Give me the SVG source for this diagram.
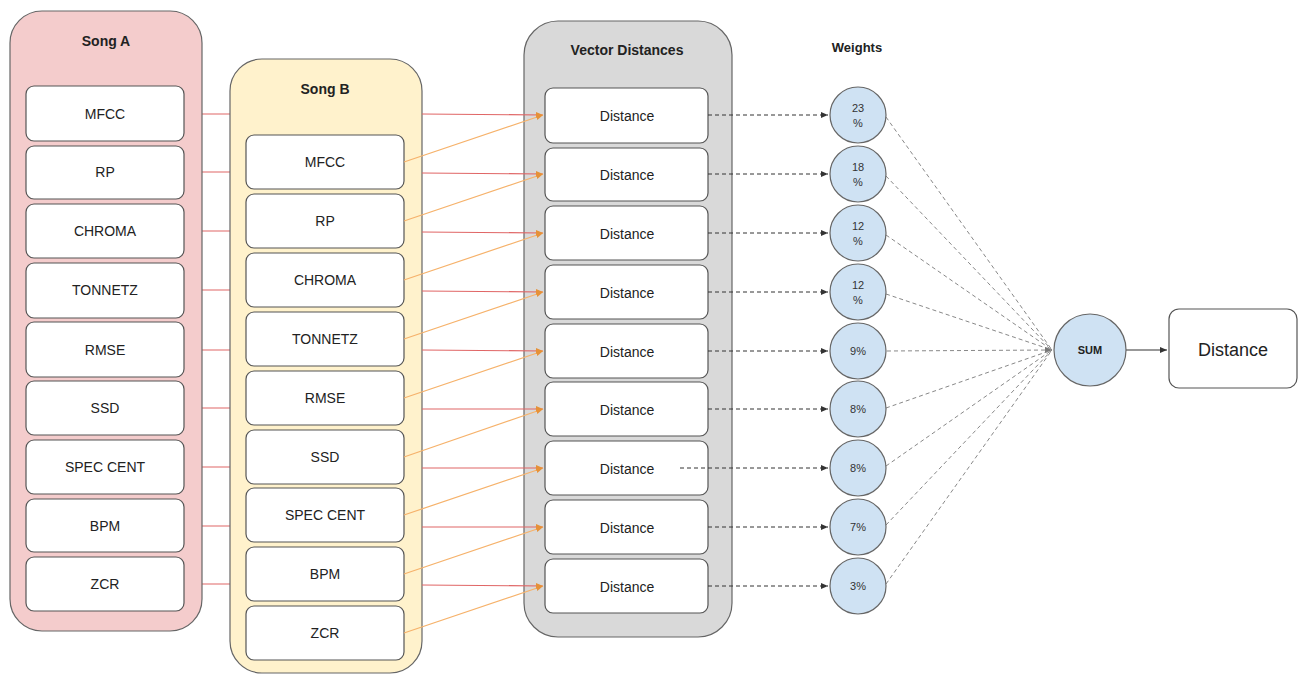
<svg xmlns="http://www.w3.org/2000/svg" width="1300" height="675" viewBox="0 0 1300 675">
  <style>
    .lbl { font-family: "Liberation Sans", Arial, sans-serif; font-size: 14px; fill: #222; text-anchor: middle; dominant-baseline: central; }
    .ttl { font-family: "Liberation Sans", Arial, sans-serif; font-size: 14px; font-weight: bold; fill: #222; text-anchor: middle; dominant-baseline: central; }
    .pct { font-family: "Liberation Sans", Arial, sans-serif; font-size: 11px; fill: #333; text-anchor: middle; dominant-baseline: central; }
    .item { fill: #ffffff; stroke: #555; stroke-width: 1.2; }
    .wt { fill: #cfe2f3; stroke: #666; stroke-width: 1.2; }
    .red { stroke: #e06666; stroke-width: 1.2; fill: none; }
    .org { stroke: #f6b26b; stroke-width: 1.2; fill: none; }
    .dk { stroke: #333; stroke-width: 1; stroke-dasharray: 4 3; fill: none; }
    .lt { stroke: #888; stroke-width: 1; stroke-dasharray: 4 3; fill: none; }
  </style>
  <defs>
    <marker id="arrRed" markerWidth="8" markerHeight="8" refX="7" refY="4" orient="auto" markerUnits="userSpaceOnUse">
      <path d="M0,1 L7,4 L0,7 Z" fill="#e69138"/>
    </marker>
    <marker id="arrDk" markerWidth="8" markerHeight="8" refX="7" refY="4" orient="auto" markerUnits="userSpaceOnUse">
      <path d="M0,1 L7,4 L0,7 Z" fill="#333"/>
    </marker>
    <marker id="arrLt" markerWidth="8" markerHeight="8" refX="7" refY="4" orient="auto" markerUnits="userSpaceOnUse">
      <path d="M0,1 L7,4 L0,7 Z" fill="#777"/>
    </marker>
  </defs>

  <!-- red feature links: Song A feature to Song B column (continues beyond it) -->
  <g id="links-a" class="red">
    <line x1="184" y1="114" x2="232" y2="114"/>
    <line x1="184" y1="172" x2="232" y2="172"/>
    <line x1="184" y1="231" x2="232" y2="231"/>
    <line x1="184" y1="290" x2="232" y2="290"/>
    <line x1="184" y1="350" x2="232" y2="350"/>
    <line x1="184" y1="408" x2="232" y2="408"/>
    <line x1="184" y1="467" x2="232" y2="467"/>
    <line x1="184" y1="526" x2="232" y2="526"/>
    <line x1="184" y1="584" x2="232" y2="584"/>
  </g>

  <!-- Song A -->
  <g id="song-a">
    <rect x="10" y="11" width="192" height="620" rx="32" fill="#f4cccc" stroke="#666" stroke-width="1.2"/>
    <text class="ttl" x="106" y="41">Song A</text>
    <g id="a-mfcc"><rect class="item" x="26" y="86" width="158" height="55" rx="8"/><text class="lbl" x="105" y="114">MFCC</text></g>
    <g id="a-rp"><rect class="item" x="26" y="146" width="158" height="53" rx="8"/><text class="lbl" x="105" y="172">RP</text></g>
    <g id="a-chroma"><rect class="item" x="26" y="204" width="158" height="54" rx="8"/><text class="lbl" x="105" y="231">CHROMA</text></g>
    <g id="a-tonnetz"><rect class="item" x="26" y="263" width="158" height="55" rx="8"/><text class="lbl" x="105" y="290">TONNETZ</text></g>
    <g id="a-rmse"><rect class="item" x="26" y="322" width="158" height="55" rx="8"/><text class="lbl" x="105" y="350">RMSE</text></g>
    <g id="a-ssd"><rect class="item" x="26" y="381" width="158" height="54" rx="8"/><text class="lbl" x="105" y="408">SSD</text></g>
    <g id="a-spec"><rect class="item" x="26" y="440" width="158" height="54" rx="8"/><text class="lbl" x="105" y="467">SPEC CENT</text></g>
    <g id="a-bpm"><rect class="item" x="26" y="499" width="158" height="53" rx="8"/><text class="lbl" x="105" y="526">BPM</text></g>
    <g id="a-zcr"><rect class="item" x="26" y="557" width="158" height="54" rx="8"/><text class="lbl" x="105" y="584">ZCR</text></g>
  </g>

  <!-- Song B -->
  <g id="song-b">
    <rect x="230" y="59" width="192" height="614" rx="32" fill="#fff2cc" stroke="#666" stroke-width="1.2"/>
    <text class="ttl" x="325" y="89">Song B</text>
    <g id="b-mfcc"><rect class="item" x="246" y="135" width="158" height="54" rx="8"/><text class="lbl" x="325" y="162">MFCC</text></g>
    <g id="b-rp"><rect class="item" x="246" y="194" width="158" height="54" rx="8"/><text class="lbl" x="325" y="221">RP</text></g>
    <g id="b-chroma"><rect class="item" x="246" y="253" width="158" height="54" rx="8"/><text class="lbl" x="325" y="280">CHROMA</text></g>
    <g id="b-tonnetz"><rect class="item" x="246" y="312" width="158" height="54" rx="8"/><text class="lbl" x="325" y="339">TONNETZ</text></g>
    <g id="b-rmse"><rect class="item" x="246" y="371" width="158" height="54" rx="8"/><text class="lbl" x="325" y="398">RMSE</text></g>
    <g id="b-ssd"><rect class="item" x="246" y="430" width="158" height="54" rx="8"/><text class="lbl" x="325" y="457">SSD</text></g>
    <g id="b-spec"><rect class="item" x="246" y="488" width="158" height="54" rx="8"/><text class="lbl" x="325" y="515">SPEC CENT</text></g>
    <g id="b-bpm"><rect class="item" x="246" y="547" width="158" height="54" rx="8"/><text class="lbl" x="325" y="574">BPM</text></g>
    <g id="b-zcr"><rect class="item" x="246" y="606" width="158" height="54" rx="8"/><text class="lbl" x="325" y="633">ZCR</text></g>
  </g>

  <!-- Vector Distances -->
  <g id="vector-distances">
    <rect x="524" y="21" width="208" height="616" rx="34" fill="#d9d9d9" stroke="#666" stroke-width="1.2"/>
    <text class="ttl" x="627" y="50">Vector Distances</text>
    <g id="d1"><rect class="item" x="545" y="88" width="163" height="55" rx="8"/><text class="lbl" x="627" y="116">Distance</text></g>
    <g id="d2"><rect class="item" x="545" y="148" width="163" height="53" rx="8"/><text class="lbl" x="627" y="175">Distance</text></g>
    <g id="d3"><rect class="item" x="545" y="206" width="163" height="54" rx="8"/><text class="lbl" x="627" y="234">Distance</text></g>
    <g id="d4"><rect class="item" x="545" y="265" width="163" height="54" rx="8"/><text class="lbl" x="627" y="293">Distance</text></g>
    <g id="d5"><rect class="item" x="545" y="324" width="163" height="54" rx="8"/><text class="lbl" x="627" y="352">Distance</text></g>
    <g id="d6"><rect class="item" x="545" y="382" width="163" height="54" rx="8"/><text class="lbl" x="627" y="410">Distance</text></g>
    <g id="d7"><rect class="item" x="545" y="441" width="163" height="54" rx="8"/><text class="lbl" x="627" y="469">Distance</text></g>
    <g id="d8"><rect class="item" x="545" y="500" width="163" height="54" rx="8"/><text class="lbl" x="627" y="528">Distance</text></g>
    <g id="d9"><rect class="item" x="545" y="559" width="163" height="54" rx="8"/><text class="lbl" x="627" y="587">Distance</text></g>
  </g>

  <!-- red links from the Song B column edge into each distance cell -->
  <g id="links-a-top" class="red">
    <line x1="422" y1="114" x2="543" y2="115" marker-end="url(#arrRed)"/>
    <line x1="422" y1="173" x2="543" y2="174" marker-end="url(#arrRed)"/>
    <line x1="422" y1="232" x2="543" y2="233" marker-end="url(#arrRed)"/>
    <line x1="422" y1="291" x2="543" y2="292" marker-end="url(#arrRed)"/>
    <line x1="422" y1="350" x2="543" y2="351" marker-end="url(#arrRed)"/>
    <line x1="422" y1="409" x2="543" y2="409" marker-end="url(#arrRed)"/>
    <line x1="422" y1="468" x2="543" y2="468" marker-end="url(#arrRed)"/>
    <line x1="422" y1="527" x2="543" y2="527" marker-end="url(#arrRed)"/>
    <line x1="422" y1="585" x2="543" y2="586" marker-end="url(#arrRed)"/>
  </g>

  <!-- orange feature links: Song B feature to its distance cell -->
  <g id="links-b" class="org">
    <line x1="404" y1="162" x2="543" y2="115" marker-end="url(#arrRed)"/>
    <line x1="404" y1="221" x2="543" y2="174" marker-end="url(#arrRed)"/>
    <line x1="404" y1="280" x2="543" y2="233" marker-end="url(#arrRed)"/>
    <line x1="404" y1="339" x2="543" y2="292" marker-end="url(#arrRed)"/>
    <line x1="404" y1="398" x2="543" y2="351" marker-end="url(#arrRed)"/>
    <line x1="404" y1="457" x2="543" y2="409" marker-end="url(#arrRed)"/>
    <line x1="404" y1="515" x2="543" y2="468" marker-end="url(#arrRed)"/>
    <line x1="404" y1="574" x2="543" y2="527" marker-end="url(#arrRed)"/>
    <line x1="404" y1="633" x2="543" y2="586" marker-end="url(#arrRed)"/>
  </g>

  <!-- weighting connectors -->
  <g id="links-weights" class="dk">
    <line x1="708" y1="115" x2="828" y2="115" marker-end="url(#arrDk)"/>
    <line x1="708" y1="174" x2="828" y2="174" marker-end="url(#arrDk)"/>
    <line x1="708" y1="233" x2="828" y2="233" marker-end="url(#arrDk)"/>
    <line x1="708" y1="292" x2="828" y2="292" marker-end="url(#arrDk)"/>
    <line x1="708" y1="351" x2="828" y2="351" marker-end="url(#arrDk)"/>
    <line x1="708" y1="409" x2="828" y2="409" marker-end="url(#arrDk)"/>
    <line x1="680" y1="468" x2="828" y2="468" marker-end="url(#arrDk)"/>
    <line x1="708" y1="527" x2="828" y2="527" marker-end="url(#arrDk)"/>
    <line x1="708" y1="586" x2="828" y2="586" marker-end="url(#arrDk)"/>
  </g>

  <g id="links-sum" class="lt">
    <line x1="886" y1="117" x2="1052" y2="350"/>
    <line x1="886" y1="176" x2="1052" y2="350"/>
    <line x1="886" y1="235" x2="1052" y2="350"/>
    <line x1="886" y1="294" x2="1052" y2="350"/>
    <line x1="887" y1="351" x2="1052" y2="350" marker-end="url(#arrLt)"/>
    <line x1="886" y1="408" x2="1052" y2="350"/>
    <line x1="886" y1="466" x2="1052" y2="350"/>
    <line x1="886" y1="525" x2="1052" y2="350"/>
    <line x1="886" y1="584" x2="1052" y2="350"/>
  </g>

  <g id="link-out">
    <line x1="1126" y1="350" x2="1167" y2="350" stroke="#333" stroke-width="1.2" marker-end="url(#arrDk)"/>
  </g>

  <!-- Weights -->
  <g id="weights">
    <text class="ttl" x="857" y="47" style="font-size:13px">Weights</text>
    <g id="w1"><circle class="wt" cx="858" cy="115" r="28"/><text class="pct" x="858" y="108">23</text><text class="pct" x="858" y="123">%</text></g>
    <g id="w2"><circle class="wt" cx="858" cy="174" r="28"/><text class="pct" x="858" y="167">18</text><text class="pct" x="858" y="182">%</text></g>
    <g id="w3"><circle class="wt" cx="858" cy="233" r="28"/><text class="pct" x="858" y="226">12</text><text class="pct" x="858" y="241">%</text></g>
    <g id="w4"><circle class="wt" cx="858" cy="292" r="28"/><text class="pct" x="858" y="285">12</text><text class="pct" x="858" y="300">%</text></g>
    <g id="w5"><circle class="wt" cx="858" cy="351" r="28"/><text class="pct" x="858" y="351">9%</text></g>
    <g id="w6"><circle class="wt" cx="858" cy="409" r="28"/><text class="pct" x="858" y="409">8%</text></g>
    <g id="w7"><circle class="wt" cx="858" cy="468" r="28"/><text class="pct" x="858" y="468">8%</text></g>
    <g id="w8"><circle class="wt" cx="858" cy="527" r="28"/><text class="pct" x="858" y="527">7%</text></g>
    <g id="w9"><circle class="wt" cx="858" cy="586" r="28"/><text class="pct" x="858" y="586">3%</text></g>
  </g>

  <!-- Sum and result -->
  <g id="sum">
    <circle class="wt" cx="1090" cy="350" r="36"/>
    <text class="ttl" x="1090" y="350" style="font-size:11px">SUM</text>
  </g>
  <g id="result">
    <rect class="item" x="1169" y="309" width="128" height="79" rx="10"/>
    <text class="lbl" x="1233" y="350" style="font-size:18px">Distance</text>
  </g>
</svg>
